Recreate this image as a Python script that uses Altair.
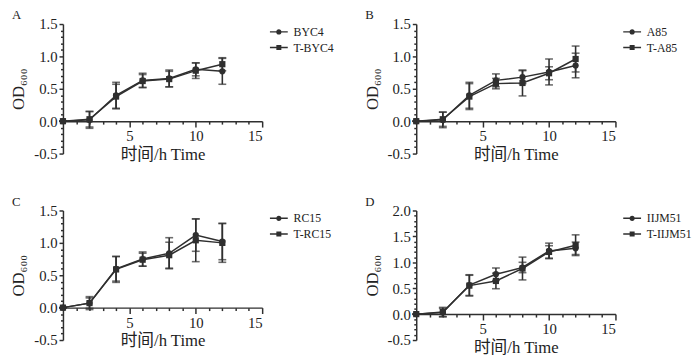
import altair as alt
import pandas as pd

# ---- data ----
hours = [0, 2, 4, 6, 8, 10, 12]
panel_letters = ["A", "B", "C", "D"]
series_names = [["BYC4", "T-BYC4"], ["A85", "T-A85"], ["RC15", "T-RC15"], ["IIJM51", "T-IIJM51"]]

mean_A1 = [0.00, 0.02, 0.40, 0.63, 0.66, 0.80, 0.77]
err_A1 = [0.00, 0.13, 0.20, 0.11, 0.13, 0.10, 0.20]
mean_A2 = [0.00, 0.03, 0.38, 0.62, 0.65, 0.78, 0.88]
err_A2 = [0.00, 0.12, 0.19, 0.10, 0.12, 0.12, 0.10]

mean_B1 = [0.00, 0.02, 0.40, 0.63, 0.68, 0.76, 0.86]
err_B1 = [0.00, 0.12, 0.20, 0.10, 0.10, 0.20, 0.19]
mean_B2 = [0.00, 0.03, 0.38, 0.58, 0.59, 0.74, 0.96]
err_B2 = [0.00, 0.11, 0.20, 0.08, 0.20, 0.10, 0.20]

mean_C1 = [0.00, 0.07, 0.60, 0.75, 0.84, 1.12, 1.02]
err_C1 = [0.00, 0.10, 0.19, 0.11, 0.24, 0.25, 0.28]
mean_C2 = [0.00, 0.07, 0.59, 0.74, 0.81, 1.04, 1.00]
err_C2 = [0.00, 0.08, 0.20, 0.10, 0.20, 0.33, 0.30]

mean_D1 = [0.00, 0.03, 0.56, 0.77, 0.90, 1.22, 1.27]
err_D1 = [0.00, 0.08, 0.20, 0.12, 0.10, 0.15, 0.12]
mean_D2 = [0.00, 0.04, 0.55, 0.64, 0.88, 1.20, 1.33]
err_D2 = [0.00, 0.09, 0.20, 0.15, 0.22, 0.12, 0.20]

panel_means = [[mean_A1, mean_A2], [mean_B1, mean_B2], [mean_C1, mean_C2], [mean_D1, mean_D2]]
panel_errs = [[err_A1, err_A2], [err_B1, err_B2], [err_C1, err_C2], [err_D1, err_D2]]
y_domains = [[-0.5, 1.5], [-0.5, 1.5], [-0.5, 1.5], [-0.5, 2.0]]

x_title = "时间/h Time"
y_title = "OD₆₀₀"

# ---- build table ----
rows = []
for p, letter in enumerate(panel_letters):
    for s in range(2):
        for h, m, e in zip(hours, panel_means[p][s], panel_errs[p][s]):
            rows.append({"panel": letter, "series": series_names[p][s], "hour": h,
                         "mean": m, "err": e})
df = pd.DataFrame(rows)

C = "#2f2f2f"
F = "Liberation Serif, Noto Sans CJK SC"
W, H = 203, 132

# legend glyphs: a thin filled bar (the line) plus the marker, all filled
circ_path = ("M-1,-0.08L1,-0.08L1,0.08L-1,0.08Z"
             "M0.3,0A0.3,0.3,0,1,1,-0.3,0A0.3,0.3,0,1,1,0.3,0Z")
sq_path = ("M-1,-0.08L1,-0.08L1,0.08L-1,0.08Z"
           "M-0.28,-0.28L0.28,-0.28L0.28,0.28L-0.28,0.28Z")


def panel(i):
    letter = panel_letters[i]
    names = series_names[i]
    ydom = y_domains[i]
    d = df[df.panel == letter]
    off = -H * (0 - ydom[0]) / (ydom[1] - ydom[0])
    yvals = [round(ydom[0] + 0.1 * k, 1) for k in range(int(round((ydom[1] - ydom[0]) / 0.1)) + 1)]

    xs = alt.Scale(domain=[0, 15], nice=False)
    ys = alt.Scale(domain=ydom, nice=False)
    xaxis = alt.Axis(
        values=list(range(1, 16)),
        labelExpr="datum.value % 5 == 0 ? datum.label : ''",
        tickSize={"condition": {"test": "datum.value % 5 == 0", "value": 6}, "value": 3},
        offset=off, title=x_title, titlePadding=3,
    )
    yaxis = alt.Axis(
        values=yvals,
        labelExpr="abs(datum.value*2 - round(datum.value*2)) < 0.01 ? (datum.value < 0 ? '-' + format(-datum.value, '.1f') : format(datum.value, '.1f')) : ''",
        tickSize={"condition": {"test": "abs(datum.value*2 - round(datum.value*2)) < 0.01", "value": 4}, "value": 2.5},
        title=y_title, titlePadding=6,
    )
    X = alt.X("hour:Q", scale=xs, axis=xaxis, title=x_title)

    base = alt.Chart(d).transform_calculate(lo="datum.mean - datum.err", hi="datum.mean + datum.err")

    rules = base.mark_rule(color=C, strokeWidth=1.6).encode(
        x=X, y=alt.Y("lo:Q", scale=ys, axis=yaxis, title=y_title), y2="hi:Q")
    cap_lo = base.mark_tick(color=C, orient="horizontal", size=8, thickness=1.6).encode(
        x=X, y=alt.Y("lo:Q", scale=ys, axis=yaxis, title=y_title))
    cap_hi = base.mark_tick(color=C, orient="horizontal", size=8, thickness=1.6).encode(
        x=X, y=alt.Y("hi:Q", scale=ys, axis=yaxis, title=y_title))
    lines = base.mark_line(color=C, strokeWidth=1.5).encode(
        x=X, y=alt.Y("mean:Q", scale=ys, axis=yaxis, title=y_title), detail="series:N")
    pts = base.mark_point(filled=True, color=C, size=40, opacity=1).encode(
        x=X, y=alt.Y("mean:Q", scale=ys, axis=yaxis, title=y_title),
        shape=alt.Shape("series:N", scale=alt.Scale(domain=names, range=["circle", "square"]), legend=None))
    leg = base.transform_filter("datum.hour < 0").mark_point(
        filled=True, color=C, opacity=1, size=330).encode(
        x=X, y=alt.Y("mean:Q", scale=ys, axis=yaxis, title=y_title),
        shape=alt.Shape("series:N", scale=alt.Scale(domain=names, range=[circ_path, sq_path]),
                        legend=alt.Legend(title=None, orient="none", legendX=210, legendY=-2,
                                          symbolSize=330, symbolFillColor=C,
                                          labelFont=F, labelFontSize=12, labelColor="#222",
                                          labelOffset=5, rowPadding=0)))
    lab = alt.Chart(pd.DataFrame({"letter": [letter]})).mark_text(
        align="left", baseline="alphabetic", font=F, fontSize=13, color="#222").encode(
        text="letter:N", x=alt.value(-52), y=alt.value(-5))

    return alt.layer(rules, cap_lo, cap_hi, lines, pts, leg, lab).resolve_scale(
        shape="independent").properties(width=W, height=H)


chart = alt.concat(*[panel(i) for i in range(4)], columns=2,
                   spacing={"row": 58, "column": 157}).properties(
    bounds="flush",
    padding={"left": 2, "top": -2, "right": 0, "bottom": 0},
).configure_view(stroke=None).configure_axis(
    grid=False, domainColor=C, domainWidth=1.5, tickColor=C, tickWidth=1.5,
    labelColor="#222", labelFont=F, labelFontSize=15, labelPadding=2,
    titleFont=F, titleFontSize=17, titleFontWeight="normal", titleColor="#222",
)

chart.save("out.html", embed_options={"renderer": "svg", "actions": False})
